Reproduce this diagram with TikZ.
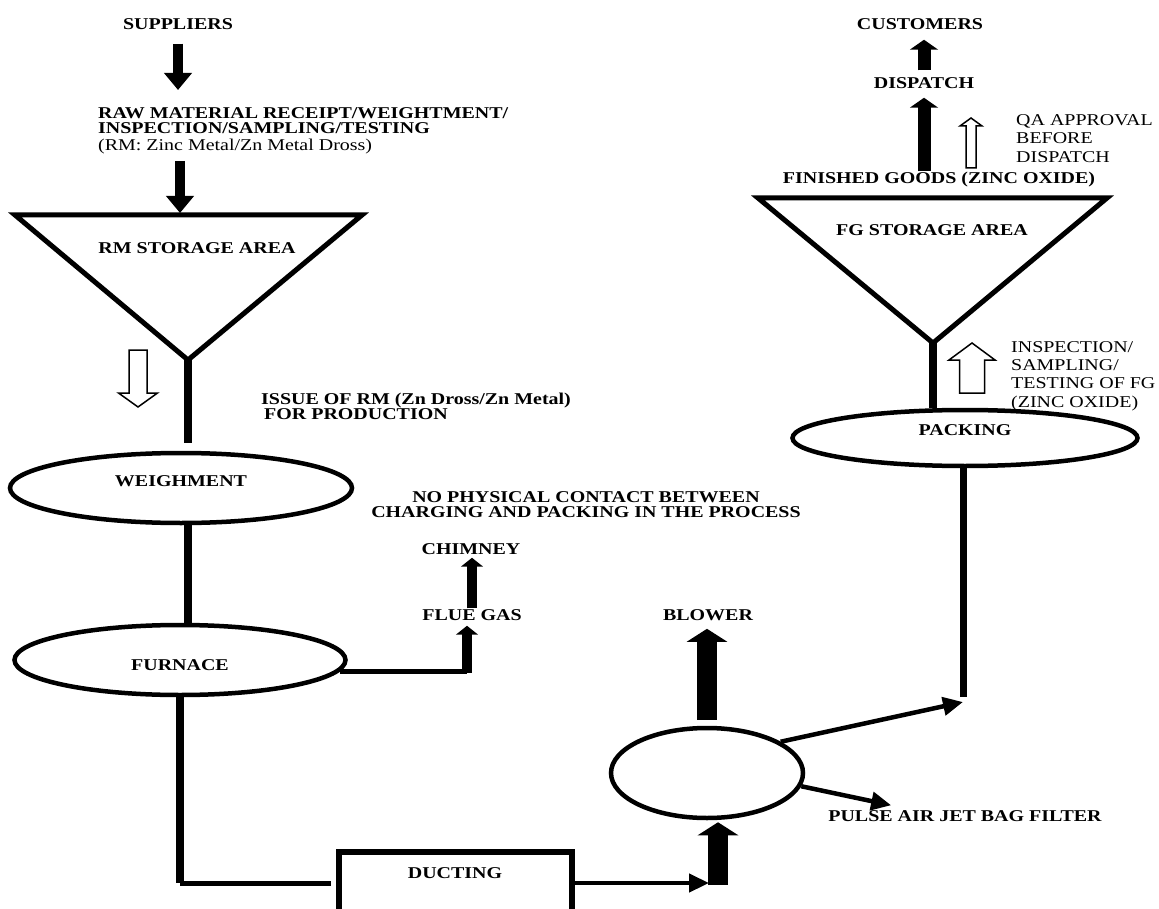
\documentclass[tikz,border=0pt]{standalone}
\usepackage{fontspec}
\setmainfont{Liberation Serif}[FakeStretch=1.21]
\usetikzlibrary{shapes.geometric,arrows.meta}

\tikzstyle{txt} = [font=\bfseries, inner sep=1pt]
\tikzstyle{note} = [inner sep=1pt, align=left, anchor=north west]
\tikzstyle{oval} = [ellipse, draw, line width=4.5pt, inner sep=1pt, font=\bfseries]
\tikzstyle{box} = [rectangle, draw, line width=6pt, inner sep=1pt, font=\bfseries]
\tikzstyle{hopper} = [line width=5pt]
\tikzstyle{pipe} = [line width=8pt]
\tikzstyle{hollow} = [line width=1.5pt, line join=miter]
\tikzstyle{fatarrow} = [line width=10pt, -{Triangle[width=27pt, length=17pt]}]
\tikzstyle{midarrow} = [line width=13pt, -{Triangle[width=28pt, length=10pt]}]
\tikzstyle{smallarrow} = [line width=10pt, -{Triangle[width=22pt, length=9pt]}]
\tikzstyle{bigarrow} = [line width=20pt, -{Triangle[width=40pt, length=13pt]}]
\tikzstyle{linkarrow} = [line width=4.5pt, -{Triangle[width=18pt, length=20pt]}]

\begin{document}
\fontsize{16.5}{16.5}\selectfont
\begin{tikzpicture}[x=1pt, y=-1pt]
  \useasboundingbox (0,0) rectangle (1159,909);

  % raw material side
  \node[txt] (sup) at (178,24) {SUPPLIERS};
  \node[note, font=\bfseries\fontsize{16.5}{15}\selectfont] (raw) at (97,106)
    {RAW MATERIAL RECEIPT/WEIGHTMENT/\\INSPECTION/SAMPLING/TESTING\\[2pt]{\mdseries (RM: Zinc Metal/Zn Metal Dross)}};
  \coordinate (rmtop) at (180,215);
  \coordinate (rmtip) at (188,360);
  \draw[hopper] (15,215) -- (362,215) -- (rmtip) -- cycle;
  \node[txt] (rmarea) at (197,248) {RM STORAGE AREA};
  \draw[fatarrow, shorten <=13pt, shorten >=16pt] (sup) -- (sup |- raw.north);
  \draw[fatarrow, shorten <=6pt, shorten >=2pt] (rmtop |- raw.south) -- (rmtop);

  % issue to production
  \draw[hollow] (129,350) -- (147,350) -- (147,393) -- (157.5,393) -- (138,407) -- (118.5,393) -- (129,393) -- cycle;
  \node[note, font=\bfseries\fontsize{16.5}{15}\selectfont] (issue) at (260,392)
    {ISSUE OF RM (Zn Dross/Zn Metal)\\\hspace*{3pt}FOR PRODUCTION};

  \node[oval, minimum width=342pt, minimum height=70pt, text height=10pt, text depth=14pt] (weigh) at (181,488) {WEIGHMENT};
  \node[oval, minimum width=331pt, minimum height=70pt, text height=20pt, text depth=0pt] (furn) at (180,660) {FURNACE};
  \draw[pipe, shorten >=8pt] (rmtip) -- (rmtip |- weigh.north);
  \draw[pipe] (rmtip |- weigh.south) -- (rmtip |- furn.north);

  % flue gas
  \node[txt] (flue) at (472,615) {FLUE GAS};
  \node[txt] (chim) at (471,549) {CHIMNEY};
  \coordinate (fluefoot) at (467,673);
  \draw[line width=5pt] (furn.-4) -- (furn.-4 -| fluefoot);
  \draw[smallarrow, shorten >=4pt] (fluefoot) -- (fluefoot |- flue.south);
  \draw[smallarrow, shorten >=2pt] (flue.north) -- (flue.north |- chim.south);
  \node[txt, align=center, font=\bfseries\fontsize{16.5}{15}\selectfont] (nophys) at (586,505)
    {NO PHYSICAL CONTACT BETWEEN\\CHARGING AND PACKING IN THE PROCESS};

  % ducting and bag filter
  \node[box, minimum width=233pt, minimum height=62pt, text height=10pt, text depth=20pt] (duct) at (455,883) {DUCTING};
  \draw[pipe] (furn.south) -- (furn.south |- duct.west);
  \draw[line width=5pt, shorten >=5pt] (furn.south |- duct.west) -- (duct.west);
  \node[oval, minimum width=192pt, minimum height=90pt] (blob) at (707,773) {};
  \coordinate (infoot) at (718,885);
  \draw[linkarrow, shorten >=9pt] (duct.east) -- (duct.east -| infoot);
  \draw[bigarrow, shorten >=2pt] (infoot) -- (infoot |- blob.south);
  \node[txt] (blow) at (708,615) {BLOWER};
  \draw[bigarrow, shorten <=6pt, shorten >=7pt] (blob.north) -- (blob.north |- blow.south);
  \node[txt] (pulse) at (965,816) {PULSE AIR JET BAG FILTER};
  \draw[linkarrow] (blob.-8) -- ([xshift=64pt, yshift=4pt]pulse.north west);

  % finished goods side
  \node[oval, minimum width=345pt, minimum height=56pt, text height=10pt, text depth=16pt] (pack) at (965,438) {PACKING};
  \coordinate (packfoot) at (963,697);
  \draw[pipe, line width=7pt] (pack.south -| packfoot) -- (packfoot);
  \draw[linkarrow] (blob.23) -- ([yshift=-5pt]packfoot);

  \coordinate (fgtip) at (933,343);
  \draw[hopper] (758,198) -- (1107,198) -- (fgtip) -- cycle;
  \node[txt] (fgarea) at (932,230) {FG STORAGE AREA};
  \draw[pipe] (fgtip) -- (fgtip |- pack.north);
  \draw[hollow] (959.5,393) -- (959.5,360) -- (949,360) -- (972,343) -- (995,360) -- (984.5,360) -- (984.5,393) -- cycle;
  \node[note, font=\fontsize{16.5}{18.3}\selectfont] (insp) at (1010,340)
    {INSPECTION/\\SAMPLING/\\TESTING OF FG\\(ZINC OXIDE)};

  \node[txt] (fin) at (939,180) {FINISHED GOODS (ZINC OXIDE)};
  \node[txt] (disp) at (924,83) {DISPATCH};
  \node[txt] (cust) at (920,24) {CUSTOMERS};
  \draw[midarrow, shorten >=8pt] (disp |- fin.north) -- (disp.south);
  \draw[midarrow, shorten <=6pt, shorten >=9pt] (disp.north) -- (disp.north |- cust.south);
  \draw[hollow] (966,168) -- (966,126) -- (960,126) -- (971,118) -- (982,126) -- (976,126) -- (976,168) -- cycle;
  \node[note, font=\fontsize{16.5}{18.5}\selectfont] (qa) at (1015,113)
    {QA APPROVAL\\BEFORE\\DISPATCH};
\end{tikzpicture}
\end{document}
